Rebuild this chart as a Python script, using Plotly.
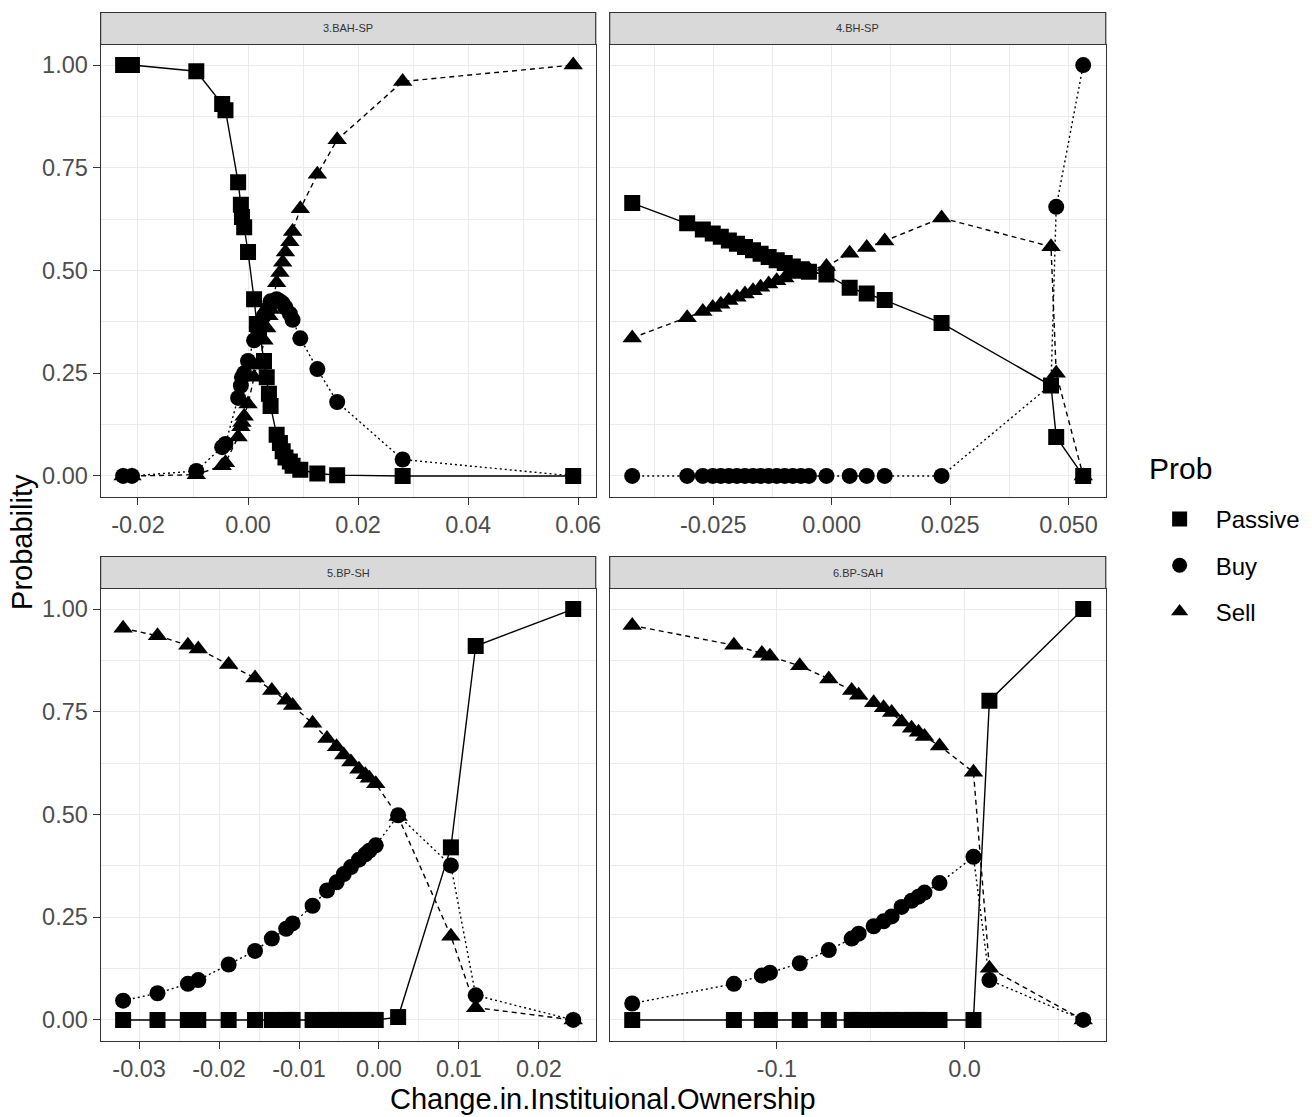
import plotly.graph_objects as go

W, H = 1312, 1117

# ---------------- data ----------------
panel_titles = ["3.BAH-SP", "4.BH-SP", "5.BP-SH", "6.BP-SAH"]
series_names = ["Passive", "Buy", "Sell"]

# 3.BAH-SP
x_bah_sp = [-0.0227, -0.0211, -0.0094, -0.0047, -0.0041, -0.0018, -0.0013, -0.0011, -0.0007, 0.0000,
            0.0011, 0.0016, 0.0020, 0.0029, 0.0034, 0.0038, 0.0041, 0.0052, 0.0058, 0.0063,
            0.0068, 0.0076, 0.0081, 0.0095, 0.0126, 0.0162, 0.0281, 0.0591]
passive_bah_sp = [1.000, 1.000, 0.985, 0.905, 0.890, 0.715, 0.660, 0.630, 0.605, 0.545,
                  0.430, 0.370, 0.360, 0.280, 0.240, 0.200, 0.170, 0.100, 0.080, 0.060,
                  0.045, 0.035, 0.025, 0.015, 0.006, 0.002, 0.000, 0.000]
buy_bah_sp = [0.000, 0.000, 0.012, 0.070, 0.078, 0.190, 0.220, 0.240, 0.250, 0.280,
              0.330, 0.360, 0.370, 0.390, 0.400, 0.410, 0.425, 0.430, 0.425, 0.420,
              0.410, 0.395, 0.380, 0.335, 0.260, 0.180, 0.040, 0.000]
sell_bah_sp = [0.000, 0.000, 0.003, 0.025, 0.032, 0.095, 0.120, 0.130, 0.145, 0.175,
               0.240, 0.270, 0.270, 0.330, 0.360, 0.390, 0.405, 0.470, 0.495, 0.520,
               0.545, 0.570, 0.595, 0.650, 0.734, 0.818, 0.960, 1.000]

# 4.BH-SP
x_bh_sp = [-0.0421, -0.0305, -0.0272, -0.0251, -0.0234, -0.0217, -0.0200, -0.0183, -0.0166, -0.0150,
           -0.0133, -0.0116, -0.0099, -0.0082, -0.0065, -0.0048, -0.0011, 0.0038, 0.0074, 0.0112,
           0.0232, 0.0463, 0.0474, 0.0531]
passive_bh_sp = [0.664, 0.615, 0.600, 0.590, 0.582, 0.573, 0.565, 0.557, 0.549, 0.541,
                 0.533, 0.525, 0.518, 0.510, 0.503, 0.497, 0.490, 0.458, 0.444, 0.428,
                 0.372, 0.220, 0.095, 0.000]
buy_bh_sp = [0.000, 0.000, 0.000, 0.000, 0.000, 0.000, 0.000, 0.000, 0.000, 0.000,
             0.000, 0.000, 0.000, 0.000, 0.000, 0.000, 0.000, 0.000, 0.000, 0.000,
             0.000, 0.222, 0.655, 1.000]
sell_bh_sp = [0.336, 0.385, 0.400, 0.410, 0.418, 0.427, 0.435, 0.443, 0.451, 0.459,
              0.467, 0.475, 0.482, 0.490, 0.497, 0.503, 0.510, 0.542, 0.556, 0.572,
              0.628, 0.558, 0.250, 0.000]

# 5.BP-SH
x_bp_sh = [-0.0320, -0.0277, -0.0239, -0.0226, -0.0188, -0.0155, -0.0134, -0.0116, -0.0108, -0.0083,
           -0.0065, -0.0053, -0.0044, -0.0035, -0.0025, -0.0017, -0.0012, -0.0004, 0.0024, 0.0090,
           0.0121, 0.0243]
passive_bp_sh = [0.000, 0.000, 0.000, 0.000, 0.000, 0.000, 0.000, 0.000, 0.000, 0.000,
                 0.000, 0.000, 0.000, 0.000, 0.000, 0.000, 0.000, 0.000, 0.007, 0.420,
                 0.910, 1.000]
buy_bp_sh = [0.047, 0.065, 0.088, 0.097, 0.135, 0.168, 0.198, 0.222, 0.235, 0.278,
             0.315, 0.335, 0.355, 0.372, 0.390, 0.403, 0.412, 0.425, 0.498, 0.376,
             0.060, 0.000]
sell_bp_sh = [0.953, 0.935, 0.912, 0.903, 0.865, 0.832, 0.802, 0.778, 0.765, 0.722,
              0.685, 0.665, 0.645, 0.628, 0.610, 0.597, 0.588, 0.575, 0.495, 0.204,
              0.030, 0.000]

# 6.BP-SAH
x_bp_sah = [-0.1771, -0.1229, -0.1080, -0.1037, -0.0878, -0.0723, -0.0601, -0.0564, -0.0484, -0.0431,
            -0.0388, -0.0335, -0.0282, -0.0245, -0.0213, -0.0133, 0.0048, 0.0133, 0.0633]
passive_bp_sah = [0.000, 0.000, 0.000, 0.000, 0.000, 0.000, 0.000, 0.000, 0.000, 0.000,
                  0.000, 0.000, 0.000, 0.000, 0.000, 0.000, 0.000, 0.777, 1.000]
buy_bp_sah = [0.040, 0.088, 0.108, 0.115, 0.138, 0.170, 0.198, 0.210, 0.228, 0.240,
              0.252, 0.275, 0.290, 0.300, 0.310, 0.333, 0.397, 0.097, 0.000]
sell_bp_sah = [0.960, 0.912, 0.892, 0.885, 0.862, 0.830, 0.802, 0.790, 0.772, 0.760,
               0.748, 0.725, 0.710, 0.700, 0.690, 0.667, 0.603, 0.126, 0.000]

# tick labels
xticks_bah_sp = [-0.02, 0.00, 0.02, 0.04, 0.06]
xlabels_bah_sp = ["-0.02", "0.00", "0.02", "0.04", "0.06"]
xticks_bh_sp = [-0.025, 0.000, 0.025, 0.050]
xlabels_bh_sp = ["-0.025", "0.000", "0.025", "0.050"]
xticks_bp_sh = [-0.03, -0.02, -0.01, 0.00, 0.01, 0.02]
xlabels_bp_sh = ["-0.03", "-0.02", "-0.01", "0.00", "0.01", "0.02"]
xticks_bp_sah = [-0.1, 0.0]
xlabels_bp_sah = ["-0.1", "0.0"]
yticks = [0.00, 0.25, 0.50, 0.75, 1.00]
ylabels = ["0.00", "0.25", "0.50", "0.75", "1.00"]

# ---------------- styling ----------------
FONT = "Liberation Sans, Arial, sans-serif"
TICK_SIZE = 23.5
symbols = {"Passive": "square", "Buy": "circle", "Sell": "triangle-up"}
msizes = {"Passive": 16, "Buy": 16, "Sell": 17}
dashes = {"Passive": "solid", "Buy": "2px,3px", "Sell": "5px,4px"}

# panel pixel boxes (left, right, top, bottom)
left_px = (101, 598)
right_px = (612, 1110)
top_py = (44.5, 496.5)
bot_py = (588.5, 1040.5)
strip_h = 32

panels = [
    dict(title=panel_titles[0], x=x_bah_sp, ys=[passive_bah_sp, buy_bah_sp, sell_bah_sp],
         ticks=xticks_bah_sp, labels=xlabels_bah_sp, xpx=left_px, ypx=top_py, ylab=True),
    dict(title=panel_titles[1], x=x_bh_sp, ys=[passive_bh_sp, buy_bh_sp, sell_bh_sp],
         ticks=xticks_bh_sp, labels=xlabels_bh_sp, xpx=right_px, ypx=top_py, ylab=False),
    dict(title=panel_titles[2], x=x_bp_sh, ys=[passive_bp_sh, buy_bp_sh, sell_bp_sh],
         ticks=xticks_bp_sh, labels=xlabels_bp_sh, xpx=left_px, ypx=bot_py, ylab=True),
    dict(title=panel_titles[3], x=x_bp_sah, ys=[passive_bp_sah, buy_bp_sah, sell_bp_sah],
         ticks=xticks_bp_sah, labels=xlabels_bp_sah, xpx=right_px, ypx=bot_py, ylab=False),
]


def midpoints(v):
    step = v[1] - v[0]
    out = [v[0] - step / 2]
    for a, b in zip(v[:-1], v[1:]):
        out.append((a + b) / 2)
    out.append(v[-1] + step / 2)
    return out


fig = go.Figure()
shapes = []
annotations = []
layout_axes = {}

for i, p in enumerate(panels):
    n = i + 1
    xa = "x" if n == 1 else f"x{n}"
    ya = "y" if n == 1 else f"y{n}"
    for name, yv in zip(series_names, p["ys"]):
        fig.add_trace(go.Scatter(
            x=p["x"], y=yv, xaxis=xa, yaxis=ya, mode="lines+markers",
            name=name, legendgroup=name, showlegend=False,
            line=dict(color="black", width=1.4, dash=dashes[name]),
            marker=dict(symbol=symbols[name], size=msizes[name], color="black",
                        line=dict(width=0)),
            hoverinfo="x+y+name",
        ))
    xmin, xmax = min(p["x"]), max(p["x"])
    span = xmax - xmin
    xr = [xmin - 0.05 * span, xmax + 0.05 * span]
    x0, x1 = p["xpx"][0] / W, p["xpx"][1] / W
    y0, y1 = 1 - p["ypx"][1] / H, 1 - p["ypx"][0] / H
    axkey = "xaxis" if n == 1 else f"xaxis{n}"
    aykey = "yaxis" if n == 1 else f"yaxis{n}"
    layout_axes[axkey] = dict(
        domain=[x0, x1], anchor=ya, range=xr,
        tickmode="array", tickvals=p["ticks"], ticktext=p["labels"],
        showgrid=True, gridcolor="#EBEBEB", gridwidth=1.3,
        minor=dict(tickmode="array", tickvals=midpoints(p["ticks"]), showgrid=True,
                   gridcolor="#EBEBEB", gridwidth=0.8, ticks=""),
        zeroline=False, showline=True, mirror=True, linecolor="#333333", linewidth=1.2,
        ticks="outside", ticklen=7, tickwidth=1.2, tickcolor="#333333",
        tickfont=dict(family=FONT, size=TICK_SIZE, color="#4D4D4D"),
    )
    layout_axes[aykey] = dict(
        domain=[y0, y1], anchor=xa, range=[-0.05, 1.05],
        tickmode="array", tickvals=yticks, ticktext=ylabels,
        showticklabels=p["ylab"], ticks="outside" if p["ylab"] else "",
        ticklen=7, tickwidth=1.2, tickcolor="#333333",
        showgrid=True, gridcolor="#EBEBEB", gridwidth=1.3,
        minor=dict(tickmode="array", tickvals=midpoints(yticks), showgrid=True,
                   gridcolor="#EBEBEB", gridwidth=0.8, ticks=""),
        zeroline=False, showline=True, mirror=True, linecolor="#333333", linewidth=1.2,
        tickfont=dict(family=FONT, size=TICK_SIZE, color="#4D4D4D"),
    )
    # strip
    sy1 = 1 - (p["ypx"][0] - strip_h) / H
    shapes.append(dict(type="rect", xref="paper", yref="paper",
                       x0=x0, x1=x1, y0=y1, y1=sy1,
                       fillcolor="#D9D9D9", line=dict(color="#333333", width=1.2),
                       layer="above"))
    annotations.append(dict(text=p["title"], xref="paper", yref="paper",
                            x=(x0 + x1) / 2, y=(y1 + sy1) / 2, showarrow=False,
                            xanchor="center", yanchor="middle",
                            font=dict(family=FONT, size=11, color="#333333")))

# legend-only traces (markers only, like the ggplot key)
for name in series_names:
    fig.add_trace(go.Scatter(
        x=[None], y=[None], xaxis="x", yaxis="y", mode="markers", name=name,
        legendgroup=name, showlegend=True,
        marker=dict(symbol=symbols[name], size=15, color="black", line=dict(width=0)),
    ))

# legend title
annotations.append(dict(text="Prob", xref="paper", yref="paper",
                        x=1151 / W, y=1 - 468 / H, showarrow=False,
                        xanchor="left", yanchor="middle",
                        font=dict(family=FONT, size=30, color="black")))

# axis titles
annotations.append(dict(text="Change.in.Instituional.Ownership", xref="paper", yref="paper",
                        x=(left_px[0] + right_px[1]) / 2 / W, y=1 - 1099 / H,
                        showarrow=False, xanchor="center", yanchor="middle",
                        font=dict(family=FONT, size=29, color="black")))
annotations.append(dict(text="Probability", xref="paper", yref="paper",
                        x=22 / W, y=1 - 542 / H, textangle=-90,
                        showarrow=False, xanchor="center", yanchor="middle",
                        font=dict(family=FONT, size=29, color="black")))

fig.update_layout(
    width=W, height=H,
    margin=dict(l=0, r=0, t=0, b=0),
    paper_bgcolor="white", plot_bgcolor="white",
    shapes=shapes, annotations=annotations,
    showlegend=True,
    legend=dict(
        font=dict(family=FONT, size=24, color="black"),
        x=1148 / W, y=1 - 497 / H, xanchor="left", yanchor="top",
        bgcolor="rgba(0,0,0,0)", borderwidth=0,
        itemwidth=62, tracegroupgap=12,
    ),
    **layout_axes,
)

fig.write_html("out.html", config={"displayModeBar": False})

# remove the default page margin so the figure sits at the window's top-left corner
with open("out.html", "r", encoding="utf-8") as fh:
    html = fh.read()
html = html.replace("<body>", '<body style="margin:0;padding:0;">', 1)
with open("out.html", "w", encoding="utf-8") as fh:
    fh.write(html)
